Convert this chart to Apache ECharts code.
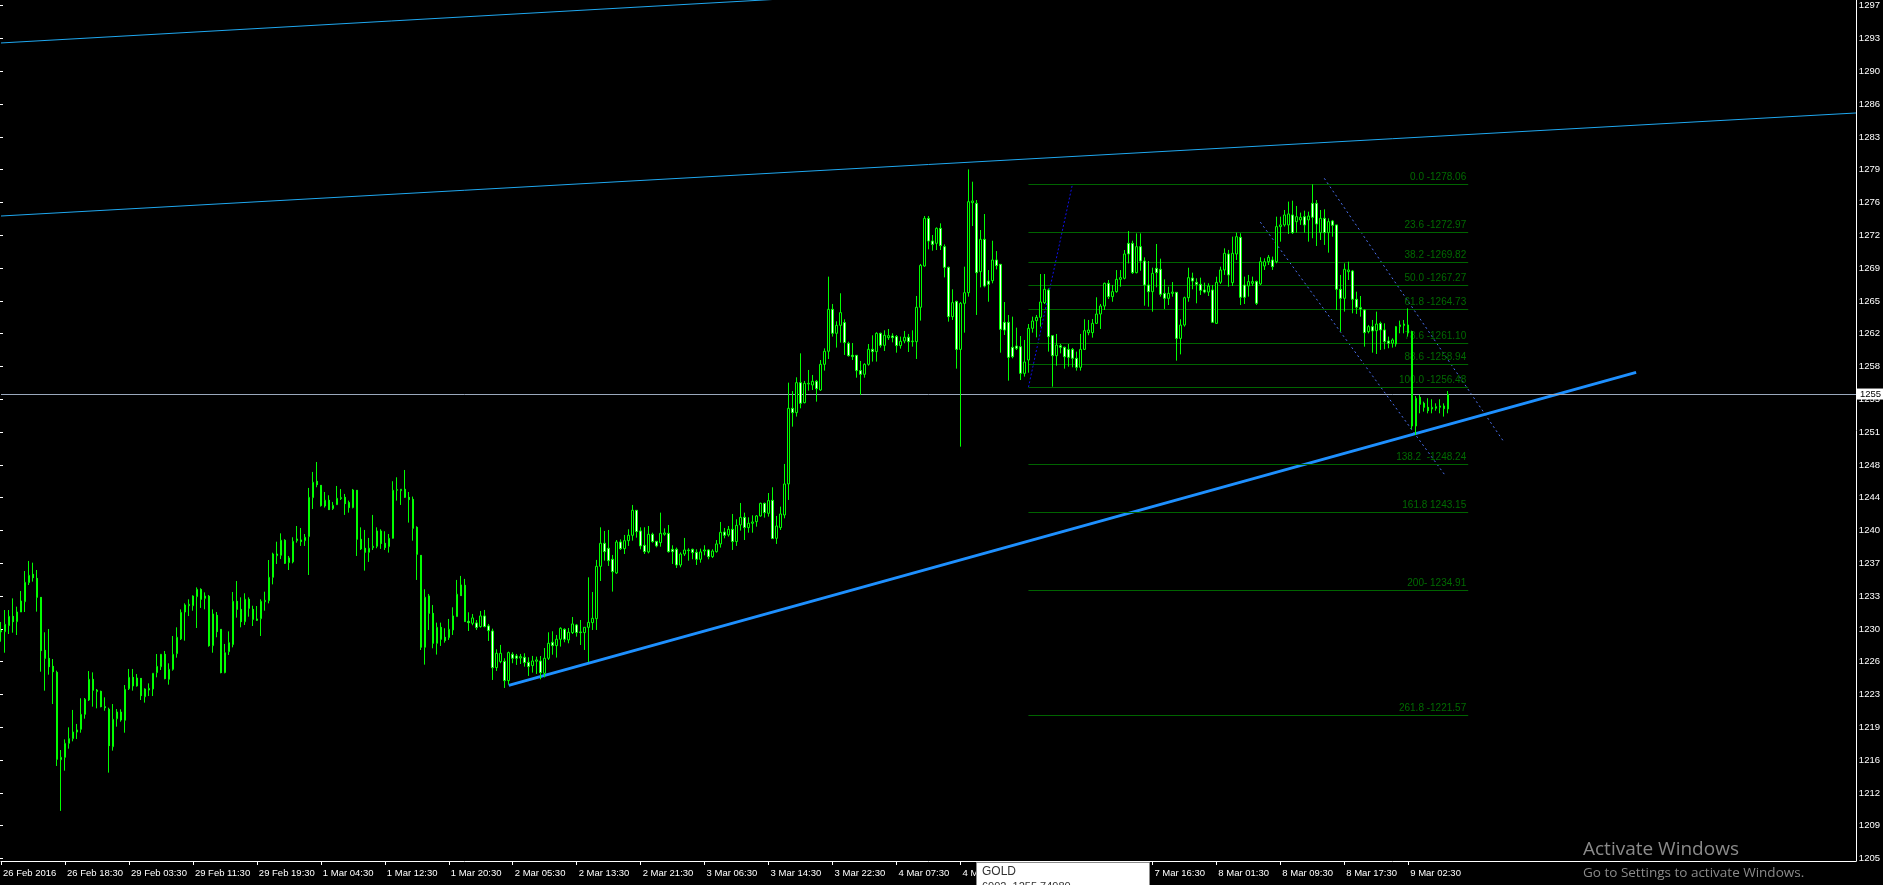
<!DOCTYPE html>
<html>
<head>
<meta charset="utf-8">
<script src="https://cdn.jsdelivr.net/npm/echarts@6/dist/echarts.min.js"></script>
<style>
  html, body { margin: 0; padding: 0; background: #000; }
  #main { width: 1883px; height: 885px; }
</style>
</head>
<body>
<div id="main"></div>
<script>
// GOLD M30, 26 Feb - 9 Mar 2016
// candles: [open, close, low, high]
var candles = [
  [1230.60,1230.45,1229.40,1231.50],[1230.47,1231.25,1228.23,1232.77],[1231.11,1232.10,1230.22,1232.77],[1232.10,1231.53,1230.36,1234.01],
  [1231.53,1232.56,1230.11,1233.13],[1232.56,1233.73,1232.56,1234.79],[1233.66,1235.72,1232.56,1236.92],[1235.68,1236.46,1235.43,1237.99],
  [1236.57,1236.21,1235.79,1237.81],[1236.14,1234.12,1232.60,1237.03],[1234.12,1228.45,1226.21,1234.12],[1228.48,1227.63,1224.19,1230.40],
  [1227.63,1226.74,1225.89,1230.75],[1226.78,1226.21,1222.77,1227.56],[1226.14,1216.89,1216.18,1226.32],[1216.85,1217.10,1211.40,1217.88],
  [1217.10,1218.59,1215.68,1219.01],[1218.59,1219.09,1218.02,1220.29],[1219.09,1219.79,1218.80,1222.14],[1219.79,1220.01,1219.05,1220.65],
  [1220.08,1221.67,1219.72,1223.38],[1221.67,1223.27,1221.21,1223.41],[1223.20,1225.40,1223.09,1226.28],[1225.40,1224.23,1222.49,1226.14],
  [1224.09,1224.26,1222.31,1224.37],[1224.12,1222.49,1222.42,1224.19],[1222.49,1222.38,1222.06,1223.48],[1222.21,1218.34,1215.47,1222.38],
  [1218.23,1221.14,1217.81,1222.77],[1221.21,1221.92,1220.36,1222.24],[1221.92,1221.07,1220.89,1222.21],[1221.04,1224.33,1219.72,1224.79],
  [1224.40,1225.61,1224.26,1226.50],[1225.61,1224.69,1224.19,1226.50],[1224.69,1225.54,1224.62,1225.96],[1225.50,1223.66,1223.20,1225.50],
  [1223.55,1224.37,1222.92,1224.44],[1224.26,1224.44,1223.62,1224.97],[1224.37,1226.04,1223.62,1226.04],[1226.11,1226.78,1225.61,1228.09],
  [1226.74,1228.06,1226.39,1228.09],[1228.06,1225.47,1225.40,1228.41],[1225.40,1226.46,1224.83,1227.10],[1226.46,1228.06,1226.32,1230.01],
  [1228.13,1229.87,1227.70,1230.93],[1229.69,1232.52,1229.58,1232.84],[1232.56,1233.31,1229.51,1233.48],[1233.23,1233.38,1232.13,1233.91],
  [1233.23,1234.26,1232.70,1234.33],[1234.19,1234.97,1230.86,1235.18],[1234.97,1233.91,1232.99,1235.08],[1234.01,1234.26,1232.84,1234.65],
  [1234.23,1228.98,1228.87,1234.37],[1228.98,1232.35,1228.23,1232.84],[1232.21,1230.47,1229.87,1232.56],[1230.72,1226.11,1226.04,1230.72],
  [1226.11,1228.23,1226.04,1229.16],[1228.34,1229.30,1227.99,1230.50],[1229.09,1233.70,1228.80,1234.69],[1233.70,1232.84,1231.96,1235.86],
  [1232.84,1231.53,1230.93,1234.12],[1231.53,1233.91,1231.18,1234.55],[1233.91,1232.95,1232.06,1234.12],[1232.84,1231.78,1231.07,1233.23],
  [1231.82,1231.67,1231.60,1233.20],[1231.85,1233.70,1230.01,1233.91],[1233.66,1233.80,1232.70,1234.72],[1233.77,1236.25,1233.48,1238.09],
  [1236.25,1238.73,1235.50,1238.87],[1238.55,1238.73,1237.67,1240.04],[1238.59,1240.19,1238.19,1240.93],[1240.19,1237.74,1237.67,1240.30],
  [1237.81,1238.31,1237.03,1238.52],[1237.89,1240.08,1237.74,1240.51],[1240.15,1240.33,1239.94,1241.71],[1240.23,1240.05,1239.59,1241.50],
  [1240.15,1240.51,1239.59,1240.86],[1240.58,1244.76,1236.50,1245.76],[1244.73,1246.36,1243.52,1247.46],[1246.47,1246.11,1245.83,1248.52],
  [1246.04,1243.88,1243.77,1246.04],[1243.84,1244.45,1243.67,1245.33],[1244.45,1243.45,1243.42,1244.98],[1243.56,1243.91,1243.42,1244.27],
  [1243.98,1244.66,1243.95,1245.97],[1244.62,1244.73,1244.48,1245.65],[1244.76,1244.09,1242.89,1245.12],[1244.20,1243.67,1243.13,1244.41],
  [1243.67,1245.54,1243.59,1245.65],[1245.51,1240.30,1238.52,1245.51],[1240.30,1239.27,1239.16,1241.57],[1239.34,1238.91,1236.96,1241.29],
  [1238.91,1239.34,1237.89,1240.44],[1239.41,1239.55,1239.16,1242.89],[1239.55,1241.18,1239.34,1241.57],[1241.18,1239.84,1239.27,1241.36],
  [1239.87,1239.41,1239.16,1241.15],[1239.52,1240.40,1238.88,1240.86],[1240.40,1245.51,1240.37,1246.47],[1245.51,1245.58,1244.41,1246.89],
  [1245.47,1245.62,1243.95,1245.62],[1245.62,1244.76,1244.69,1247.67],[1244.76,1244.52,1242.07,1245.33],[1244.55,1241.47,1240.15,1244.84],
  [1241.57,1238.70,1235.97,1241.68],[1238.59,1228.81,1228.52,1238.59],[1228.81,1234.13,1226.96,1234.98],[1234.27,1232.42,1230.65,1234.48],
  [1232.42,1229.23,1228.70,1233.31],[1229.23,1230.93,1228.03,1231.43],[1230.93,1229.66,1228.95,1231.43],[1229.87,1229.52,1229.30,1230.83],
  [1229.84,1230.72,1229.59,1231.82],[1230.65,1232.14,1230.12,1233.06],[1232.07,1234.45,1232.07,1235.97],[1235.44,1234.30,1234.30,1236.40],
  [1235.40,1231.54,1231.54,1236.08],[1231.57,1231.43,1230.54,1232.53],[1231.36,1231.93,1231.15,1232.35],[1231.40,1230.90,1230.65,1231.71],
  [1231.01,1232.14,1230.90,1232.67],[1232.14,1231.01,1230.93,1232.78],[1231.08,1230.58,1229.48,1231.29],[1230.54,1226.64,1225.33,1230.79],
  [1226.64,1228.17,1226.29,1228.59],[1227.28,1228.17,1227.11,1229.06],[1227.32,1225.26,1224.48,1227.64],[1225.26,1228.24,1224.84,1228.35],
  [1228.06,1227.64,1227.11,1228.28],[1227.89,1227.64,1226.93,1228.10],[1227.67,1227.81,1227.03,1228.10],[1227.74,1227.18,1226.75,1228.17],
  [1227.21,1226.75,1225.76,1227.74],[1226.86,1227.35,1226.11,1227.89],[1227.32,1227.46,1225.97,1227.81],[1227.35,1226.11,1225.40,1227.88],
  [1226.04,1227.64,1225.61,1228.73],[1227.64,1229.23,1227.46,1230.40],[1229.34,1228.98,1228.02,1230.51],[1228.98,1229.66,1227.71,1230.12],
  [1229.66,1230.83,1228.88,1230.93],[1230.72,1229.66,1229.34,1230.83],[1229.59,1230.40,1229.23,1230.86],[1230.37,1231.29,1230.22,1232.03],
  [1231.18,1230.37,1229.94,1231.29],[1230.44,1230.37,1229.05,1231.71],[1230.37,1230.93,1228.52,1230.93],[1230.93,1231.46,1227.24,1236.25],
  [1231.43,1231.89,1230.65,1234.69],[1231.85,1237.42,1230.65,1238.10],[1237.42,1239.87,1235.86,1241.57],[1239.87,1238.98,1238.02,1241.18],
  [1239.34,1238.02,1237.46,1241.29],[1238.17,1236.85,1234.73,1238.63],[1236.71,1240.01,1236.61,1240.22],[1240.01,1239.30,1239.16,1240.29],
  [1239.30,1240.15,1238.73,1240.76],[1240.15,1240.72,1239.59,1241.36],[1240.72,1243.38,1240.15,1243.95],[1243.38,1241.11,1240.47,1243.38],
  [1241.18,1239.59,1239.23,1241.57],[1239.66,1238.98,1238.73,1241.57],[1238.95,1240.83,1238.80,1241.71],[1240.83,1240.05,1239.94,1241.00],
  [1240.08,1239.59,1239.44,1240.12],[1239.94,1240.93,1239.51,1243.13],[1240.83,1240.97,1240.68,1241.46],[1240.93,1238.98,1238.88,1241.82],
  [1239.23,1238.98,1237.67,1239.66],[1239.23,1237.56,1237.24,1239.41],[1237.56,1238.73,1237.32,1238.91],[1238.73,1239.16,1238.52,1240.44],
  [1239.09,1239.16,1238.02,1239.34],[1239.23,1238.88,1238.17,1239.30],[1238.91,1238.17,1237.56,1239.23],[1238.17,1238.95,1237.81,1239.30],
  [1239.05,1239.16,1238.59,1239.66],[1239.16,1238.45,1238.17,1239.23],[1238.45,1239.05,1238.31,1239.23],[1238.98,1239.80,1238.88,1240.22],
  [1239.80,1241.04,1239.41,1242.14],[1241.07,1240.72,1240.40,1241.50],[1240.76,1241.36,1240.58,1241.71],[1241.36,1240.05,1239.16,1242.99],
  [1240.05,1241.78,1239.59,1242.42],[1241.82,1242.63,1241.22,1244.16],[1242.63,1241.54,1240.22,1243.13],[1241.54,1242.00,1241.00,1242.63],
  [1242.00,1242.14,1241.00,1242.85],[1242.17,1242.78,1241.64,1242.88],[1242.78,1244.12,1242.71,1244.20],[1244.12,1243.13,1242.60,1244.20],
  [1243.06,1244.41,1242.71,1245.22],[1244.44,1240.37,1240.33,1245.83],[1240.40,1241.71,1239.80,1242.78],[1241.54,1242.99,1241.29,1243.77],
  [1242.88,1246.18,1242.53,1248.31],[1246.18,1254.23,1244.48,1256.96],[1254.23,1253.77,1252.28,1256.07],[1253.77,1256.96,1253.35,1257.53],
  [1256.96,1254.76,1254.23,1260.08],[1254.83,1256.89,1254.76,1257.14],[1256.82,1256.89,1256.11,1258.31],[1256.71,1257.10,1256.18,1257.78],
  [1257.10,1256.32,1254.94,1257.25],[1256.18,1258.91,1256.08,1259.37],[1258.91,1260.30,1258.24,1260.61],[1260.30,1264.76,1259.48,1268.24],
  [1264.76,1262.21,1261.86,1265.33],[1262.21,1263.06,1260.69,1263.49],[1263.06,1264.41,1261.22,1266.47],[1263.35,1261.22,1259.91,1263.70],
  [1261.15,1259.83,1259.73,1261.32],[1259.87,1259.73,1259.37,1261.18],[1259.87,1258.24,1257.49,1259.87],[1258.24,1257.85,1255.65,1259.27],
  [1257.85,1258.91,1257.49,1259.02],[1258.91,1260.51,1258.77,1261.07],[1260.51,1260.26,1259.20,1262.00],[1260.26,1262.21,1259.20,1262.32],
  [1262.21,1260.93,1260.69,1262.28],[1260.93,1262.00,1260.33,1262.53],[1261.75,1261.96,1261.50,1262.67],[1261.93,1261.75,1261.25,1262.21],
  [1261.86,1260.90,1260.15,1262.03],[1260.90,1261.36,1260.58,1261.86],[1261.39,1261.79,1261.15,1262.46],[1261.79,1261.32,1260.22,1262.14],
  [1261.32,1261.39,1260.79,1262.53],[1261.32,1264.98,1259.48,1266.18],[1264.98,1269.44,1263.56,1269.59],[1269.37,1274.44,1269.30,1274.69],
  [1274.44,1272.03,1271.14,1274.69],[1272.03,1271.67,1271.00,1272.67],[1271.78,1273.38,1271.07,1273.48],[1273.38,1271.53,1271.07,1273.91],
  [1271.43,1269.23,1268.16,1271.67],[1269.23,1263.98,1263.45,1269.30],[1263.98,1265.47,1263.63,1266.89],[1265.61,1260.50,1258.45,1265.68],
  [1260.50,1265.40,1250.15,1265.54],[1265.40,1266.53,1262.28,1269.30],[1266.53,1276.21,1266.11,1279.65],[1276.11,1276.28,1273.62,1278.34],
  [1276.04,1268.66,1264.16,1276.39],[1268.77,1272.21,1267.10,1273.20],[1272.21,1267.24,1267.10,1274.90],[1267.77,1267.42,1265.57,1268.94],
  [1267.81,1270.01,1267.53,1272.06],[1270.01,1269.41,1269.01,1270.96],[1269.55,1262.63,1260.15,1269.55],[1263.38,1262.56,1262.03,1265.54],
  [1263.38,1259.65,1257.17,1264.16],[1260.72,1259.72,1259.55,1263.98],[1260.86,1260.61,1260.43,1262.81],[1260.79,1257.95,1257.24,1261.92],
  [1257.95,1259.16,1257.60,1261.50],[1259.37,1262.74,1258.02,1263.20],[1262.74,1263.52,1262.28,1263.98],[1263.55,1263.91,1261.78,1264.16],
  [1263.91,1265.54,1262.92,1268.52],[1265.47,1266.89,1265.33,1268.52],[1266.82,1261.85,1260.26,1266.99],[1261.96,1259.83,1256.53,1262.03],
  [1259.83,1260.96,1258.77,1262.14],[1260.89,1260.72,1260.08,1261.07],[1260.72,1259.72,1258.45,1260.79],[1260.50,1259.65,1258.66,1261.07],
  [1260.50,1259.55,1258.59,1260.65],[1259.55,1258.59,1258.24,1260.26],[1258.59,1260.50,1258.24,1262.14],[1260.50,1262.49,1260.43,1263.70],
  [1262.28,1262.56,1262.00,1263.63],[1262.28,1263.27,1261.75,1263.73],[1263.27,1264.26,1263.20,1266.04],[1264.26,1265.11,1262.67,1265.33],
  [1265.11,1267.53,1264.69,1267.60],[1267.53,1266.11,1265.86,1267.88],[1266.11,1266.64,1265.57,1267.35],[1266.64,1267.95,1266.53,1268.94],
  [1267.95,1268.13,1267.17,1268.94],[1268.06,1270.65,1267.95,1271.07],[1271.78,1270.65,1269.65,1273.09],[1271.78,1268.66,1268.52,1272.06],
  [1268.66,1271.43,1268.59,1272.84],[1271.43,1269.90,1268.87,1272.84],[1269.90,1267.35,1265.15,1270.29],[1267.35,1266.64,1265.04,1269.90],
  [1266.64,1268.59,1264.51,1269.19],[1269.12,1268.66,1267.10,1271.71],[1269.02,1266.36,1266.11,1270.15],[1266.46,1265.93,1264.80,1267.95],
  [1265.93,1266.46,1265.22,1267.17],[1266.46,1266.60,1266.11,1267.67],[1266.57,1261.67,1259.30,1266.57],[1261.67,1263.09,1259.97,1263.70],
  [1263.09,1266.00,1262.92,1266.11],[1266.00,1268.13,1265.57,1269.19],[1268.09,1267.77,1266.89,1268.66],[1267.63,1267.42,1265.40,1268.06],
  [1267.42,1266.78,1266.29,1268.13],[1266.82,1266.60,1266.46,1267.60],[1266.60,1267.24,1266.18,1267.53],[1266.82,1263.38,1263.34,1267.35],
  [1263.27,1267.63,1263.20,1268.23],[1267.64,1268.95,1267.46,1269.30],[1268.95,1270.72,1268.42,1271.25],[1270.65,1268.42,1267.17,1271.08],
  [1267.60,1270.72,1267.25,1272.49],[1270.65,1272.49,1270.01,1272.92],[1272.42,1266.04,1265.22,1272.85],[1267.35,1266.04,1265.33,1268.24],
  [1267.25,1267.71,1266.11,1268.42],[1267.53,1267.71,1267.25,1268.24],[1267.71,1265.40,1265.22,1267.82],[1267.46,1269.83,1267.35,1270.30],
  [1269.37,1269.83,1268.95,1270.19],[1269.83,1270.30,1269.48,1270.54],[1270.01,1269.30,1268.95,1270.37],[1269.83,1273.56,1269.66,1274.62],
  [1273.56,1273.74,1271.96,1274.62],[1273.74,1274.80,1273.56,1275.33],[1273.74,1274.91,1272.78,1276.22],[1274.80,1272.92,1272.78,1276.32],
  [1274.09,1274.62,1272.92,1275.76],[1274.27,1274.55,1273.74,1275.05],[1274.62,1273.74,1272.92,1275.26],[1274.27,1274.69,1271.96,1275.15],
  [1276.04,1274.55,1272.32,1278.06],[1276.04,1273.84,1271.50,1276.39],[1272.92,1274.44,1272.14,1275.33],[1274.44,1272.92,1271.61,1275.40],
  [1272.92,1274.09,1270.79,1274.44],[1274.16,1273.70,1272.49,1274.27],[1273.74,1266.89,1264.69,1273.74],[1266.89,1265.93,1262.39,1268.42],
  [1265.93,1269.02,1264.52,1269.66],[1268.77,1268.95,1267.88,1269.83],[1268.84,1265.83,1264.34,1268.95],[1265.83,1264.98,1264.27,1266.64],
  [1264.94,1264.80,1263.98,1266.18],[1264.69,1262.28,1260.79,1264.76],[1262.39,1262.92,1262.21,1263.10],[1262.92,1262.46,1260.15,1263.63],
  [1262.49,1263.20,1260.01,1264.52],[1263.27,1262.57,1260.44,1263.45],[1262.57,1261.32,1260.51,1263.27],[1261.39,1261.15,1260.62,1261.86],
  [1261.15,1261.50,1260.69,1261.68],[1261.07,1262.92,1260.79,1262.99],[1262.92,1263.10,1262.21,1263.56],[1263.03,1263.20,1262.21,1263.63],
  [1263.10,1262.28,1261.86,1264.87],[1262.39,1252.35,1252.00,1262.49],[1252.35,1255.30,1251.39,1255.54],[1255.40,1254.66,1253.70,1255.65],
  [1254.76,1254.34,1253.88,1254.94],[1254.34,1253.98,1253.70,1255.30],[1254.16,1254.34,1253.70,1255.19],[1254.23,1254.41,1253.98,1254.76],
  [1254.34,1254.48,1253.70,1255.19],[1254.48,1254.20,1253.35,1254.76],[1254.16,1255.72,1253.70,1256.07]
];

var barCount = 465; // bar slots across the chart, incl. empty space on the right
var timeLabels = ['26 Feb 2016', '26 Feb 18:30', '29 Feb 03:30', '29 Feb 11:30', '29 Feb 19:30',
  '1 Mar 04:30', '1 Mar 12:30', '1 Mar 20:30', '2 Mar 05:30', '2 Mar 13:30', '2 Mar 21:30',
  '3 Mar 06:30', '3 Mar 14:30', '3 Mar 22:30', '4 Mar 07:30', '4 Mar 15:30', '7 Mar 00:30',
  '7 Mar 08:30', '7 Mar 16:30', '8 Mar 01:30', '8 Mar 09:30', '8 Mar 17:30', '9 Mar 02:30'];
var priceLabels = ['1297', '1293', '1290', '1286', '1283', '1279', '1276', '1272', '1269', '1265',
  '1262', '1258', '1255', '1251', '1248', '1244', '1240', '1237', '1233', '1230', '1226', '1223',
  '1219', '1216', '1212', '1209', '1205'];

// fibonacci levels
var fibLevels = [1278.06, 1272.97, 1269.82, 1267.27, 1264.73, 1261.10, 1258.94, 1256.48, 1248.24, 1243.15, 1234.91, 1221.57];
var fibTexts = ['0.0 -1278.06', '23.6 -1272.97', '38.2 -1269.82', '50.0 -1267.27', '61.8 -1264.73', '78.6 -1261.10',
  '88.6 -1258.94', '100.0 -1256.48', '138.2  -1248.24', '161.8 1243.15', '200- 1234.91', '261.8 -1221.57'];
var fibRange = [257, 367];

// trend lines as [bar, price] end points
var channelTop = [[0, 1293.10], [230, 1298.61]];
var channelMid = [[0, 1274.69], [464, 1285.65]];
var supportLine = [[127, 1224.75], [409, 1258.05]];
var fibTrend = [[257, 1256.48], [268, 1278.06]];
var downA = [[331, 1278.70], [376, 1250.61]];
var downB = [[315, 1274.04], [361, 1247.23]];
var bidPrice = 1255.75;

var FONT = "'Liberation Sans', Arial, sans-serif";

var cats = [];
for (var i = 0; i < barCount; i++) cats.push(String(i));

function showTime(idx) { return idx % 16 === 0 && idx / 16 < timeLabels.length; }

function trend(data, color, width, type) {
  return {
    type: 'line', data: data, xAxisIndex: 0, yAxisIndex: 0,
    showSymbol: false, symbol: 'none', silent: true, animation: false, z: 2,
    lineStyle: { color: color, width: width, type: type }
  };
}

var fibMarks = fibLevels.map(function (lv, k) {
  return [
    { coord: [fibRange[0], lv], label: { formatter: fibTexts[k] } },
    { coord: [fibRange[1], lv] }
  ];
});

var chart = echarts.init(document.getElementById('main'));
chart.setOption({
  backgroundColor: '#000',
  animation: false,
  grid: [
    { left: -1.5, right: 27, top: 0, bottom: 24 },
    { left: -1.5, right: 27, top: 5.7, height: 852.8 }
  ],
  xAxis: [{
    type: 'category', data: cats, boundaryGap: false, gridIndex: 0,
    axisLine: { show: true, lineStyle: { color: '#fff', width: 1 } },
    axisTick: { show: true, length: 4, interval: showTime, lineStyle: { color: '#fff' } },
    axisLabel: {
      interval: showTime, color: '#fff', fontSize: 9.5, fontFamily: FONT,
      align: 'left', margin: 7, padding: [0, 0, 0, 2],
      formatter: function (v, idx) { return timeLabels[idx / 16]; }
    },
    splitLine: { show: false }
  }, {
    type: 'value', gridIndex: 1, show: false, min: 0, max: 1
  }],
  yAxis: [{
    type: 'value', gridIndex: 0, position: 'right', min: 1206.07, max: 1297.67, scale: true,
    axisLine: { show: true, onZero: false, lineStyle: { color: '#fff', width: 1 } },
    axisTick: { show: false }, axisLabel: { show: false }, splitLine: { show: false }
  }, {
    type: 'value', gridIndex: 1, position: 'right', min: 0, max: 26, interval: 1,
    axisLine: { show: false },
    axisTick: { show: true, length: 3, lineStyle: { color: '#fff' } },
    axisLabel: {
      color: '#fff', fontSize: 9.5, fontFamily: FONT, margin: 5,
      formatter: function (v) { return priceLabels[26 - v]; }
    },
    splitLine: { show: false }
  }],
  series: [
    {
      // fibonacci retracement / extension levels
      type: 'line', data: [], xAxisIndex: 0, yAxisIndex: 0, z: 1, silent: true,
      markLine: {
        silent: true, animation: false, symbol: ['none', 'none'],
        lineStyle: { color: '#006400', width: 1, type: 'solid' },
        label: { show: true, position: 'insideEndTop', distance: 2, color: '#006a00', fontSize: 10, fontFamily: FONT },
        data: fibMarks
      }
    },
    {
      // bid line
      type: 'line', data: [], xAxisIndex: 0, yAxisIndex: 0, z: 1, silent: true,
      markLine: {
        silent: true, animation: false, symbol: ['none', 'none'],
        lineStyle: { color: '#9aa8bc', width: 1, type: 'solid' },
        label: {
          show: true, position: 'end', distance: 1, formatter: '1255',
          color: '#000', backgroundColor: '#fff', padding: [1, 3, 0, 3],
          fontSize: 9.5, fontFamily: FONT
        },
        data: [{ yAxis: bidPrice }]
      }
    },
    trend(channelTop, '#1fa8f0', 1, 'solid'),
    trend(channelMid, '#1fa8f0', 1, 'solid'),
    trend(fibTrend, '#1010e8', 1, [2, 2]),
    trend(downA, '#4a70f0', 1, [2, 3]),
    trend(downB, '#4a70f0', 1, [2, 3]),
    {
      type: 'candlestick', name: 'GOLD', data: candles, xAxisIndex: 0, yAxisIndex: 0,
      barWidth: 2, z: 5, silent: true,
      itemStyle: { color: '#000', color0: '#fff', borderColor: '#00ff00', borderColor0: '#00ff00', borderWidth: 1 }
    },
    trend(supportLine, '#1e90ff', 3, 'solid'),
    { type: 'line', data: [], xAxisIndex: 1, yAxisIndex: 1 }
  ],
  graphic: [
    {
      type: 'rect', z: 100, shape: { x: 976.5, y: 862.5, width: 173, height: 30 },
      style: { fill: '#fff', stroke: '#8c8c8c', lineWidth: 1 }
    },
    {
      type: 'text', z: 101, x: 982, y: 866,
      style: { text: 'GOLD', fill: '#333', fontSize: 12, fontFamily: FONT }
    },
    {
      type: 'text', z: 101, x: 982, y: 881,
      style: { text: '6002  1255.74980', fill: '#333', fontSize: 11, fontFamily: FONT }
    },
    {
      type: 'text', z: 100, x: 1583, y: 840,
      style: { text: 'Activate Windows', fill: '#8a8a8a', fontSize: 19, fontFamily: "'Open Sans', 'Liberation Sans', sans-serif" }
    },
    {
      type: 'text', z: 100, x: 1583, y: 866,
      style: { text: 'Go to Settings to activate Windows.', fill: '#8a8a8a', fontSize: 13.5, fontFamily: "'Open Sans', 'Liberation Sans', sans-serif" }
    }
  ]
});
</script>
</body>
</html>
